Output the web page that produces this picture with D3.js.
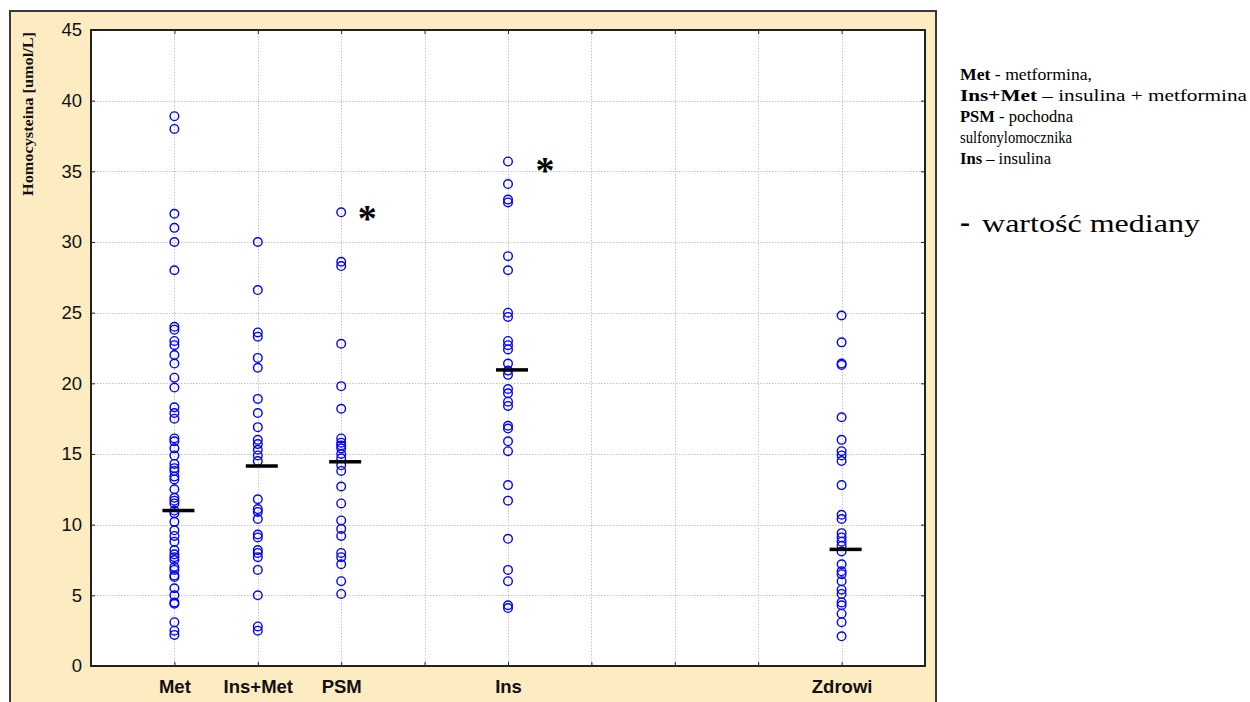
<!DOCTYPE html>
<html><head><meta charset="utf-8">
<script src="https://cdn.jsdelivr.net/npm/d3@7"></script>
<style>
html,body{margin:0;padding:0;background:#fff;}
svg{display:block;}
</style>
</head><body>
<svg id="chart" width="1250" height="702"></svg>
<script>
// ---- data ----
const categories = ["Met", "Ins+Met", "PSM", "Ins", "Zdrowi"];
const categoryCodes = [1, 2, 3, 5, 9];
const metValues = [38.9, 38.0, 32.0, 31.0, 30.0, 28.0, 24.0, 23.8, 23.0, 22.7, 22.0, 21.4, 20.4, 19.7, 18.3, 17.9, 17.5, 16.1, 15.9, 15.4, 14.9, 14.3, 14.0, 13.8, 13.4, 13.2, 12.5, 11.9, 11.7, 11.5, 11.0, 10.8, 10.2, 9.6, 9.2, 8.8, 8.2, 7.9, 7.7, 7.5, 7.0, 6.8, 6.4, 6.3, 5.5, 5.0, 4.5, 4.4, 3.1, 2.5, 2.2];
const insMetValues = [30.0, 26.6, 23.6, 23.3, 21.8, 21.1, 18.9, 17.9, 16.9, 16.0, 15.7, 15.3, 14.9, 14.5, 11.8, 11.1, 10.9, 10.4, 9.3, 9.1, 8.2, 8.0, 7.7, 6.8, 5.0, 2.8, 2.5];
const psmValues = [32.1, 28.6, 28.3, 22.8, 19.8, 18.2, 16.1, 15.8, 15.6, 15.4, 15.0, 14.7, 14.2, 13.8, 12.7, 11.5, 10.3, 9.7, 9.2, 8.0, 7.7, 7.2, 6.0, 5.1];
const insValues = [35.7, 34.1, 33.0, 32.8, 29.0, 28.0, 25.0, 24.7, 23.0, 22.7, 22.4, 21.4, 20.9, 20.6, 19.6, 19.3, 18.7, 18.4, 17.0, 16.8, 15.9, 15.2, 12.8, 11.7, 9.0, 6.8, 6.0, 4.3, 4.1];
const zdrowiValues = [24.8, 22.9, 21.4, 21.3, 17.6, 16.0, 15.2, 14.9, 14.5, 12.8, 10.7, 10.4, 9.4, 9.1, 8.8, 8.5, 8.1, 7.2, 6.7, 6.5, 6.0, 5.4, 5.1, 4.5, 4.3, 3.7, 3.1, 2.1];
const medians = [11.0, 14.15, 14.45, 20.95, 8.25];
const significantCategories = ["PSM", "Ins"];
const significantValues = [32.1, 35.5];
const yTicks = [0, 5, 10, 15, 20, 25, 30, 35, 40, 45];
const xGridCodes = [1, 2, 3, 4, 5, 6, 7, 8, 9];
const yLabel = "Homocysteina [umol/L]";
const legendLines = [
  [["Met", true], [" - metformina,", false]],
  [["Ins+Met", true], [" \u2013 insulina + metformina", false]],
  [["PSM", true], [" - pochodna", false]],
  [["sulfonylomocznika", false]],
  [["Ins", true], [" \u2013 insulina", false]]
];
const medianLegend = "wartość mediany";

const seriesValues = [metValues, insMetValues, psmValues, insValues, zdrowiValues];

// ---- layout ----
const svg = d3.select("#chart");
const plot = {left: 91, right: 925, top: 30, bottom: 666};
const x = d3.scaleLinear().domain([0, 10]).range([plot.left, plot.right]);
const y = d3.scaleLinear().domain([0, 45]).range([plot.bottom, plot.top]);

// outer frame
svg.append("rect").attr("x", 10).attr("y", 11).attr("width", 926).attr("height", 720)
  .attr("fill", "#fdebc1").attr("stroke", "#3a3a3a").attr("stroke-width", 2);
// plot area
svg.append("rect").attr("x", plot.left).attr("y", plot.top)
  .attr("width", plot.right - plot.left).attr("height", plot.bottom - plot.top)
  .attr("fill", "#ffffff");

// grid
const grid = svg.append("g").attr("stroke", "#c4c4c4").attr("stroke-width", 1).attr("stroke-dasharray", "1.5,1.5");
grid.selectAll("line.h").data(yTicks.filter(d => d > 0 && d < 45)).join("line")
  .attr("x1", plot.left).attr("x2", plot.right)
  .attr("y1", d => Math.round(y(d)) + 0.5).attr("y2", d => Math.round(y(d)) + 0.5);
grid.selectAll("line.v").data(xGridCodes).join("line")
  .attr("y1", plot.top).attr("y2", plot.bottom)
  .attr("x1", d => Math.round(x(d)) + 0.5).attr("x2", d => Math.round(x(d)) + 0.5);

// axes
const fontSans = "'Liberation Sans', Arial, sans-serif";
const fontSerif = "'Liberation Serif', 'Times New Roman', serif";
const yAxis = d3.axisLeft(y).tickValues(yTicks).tickSize(-4).tickPadding(9);
const yAxisG = svg.append("g").attr("transform", `translate(${plot.left},0)`).call(yAxis);
yAxisG.select(".domain").remove();
yAxisG.selectAll("text").attr("font-family", fontSans).attr("font-size", 18.5).attr("fill", "#111");
yAxisG.selectAll("line").attr("stroke", "#222");

const yAxisR = d3.axisRight(y).tickValues(yTicks).tickSize(-4).tickFormat("");
const yAxisRG = svg.append("g").attr("transform", `translate(${plot.right},0)`).call(yAxisR);
yAxisRG.select(".domain").remove();
yAxisRG.selectAll("line").attr("stroke", "#222");

const xAxis = d3.axisBottom(x).tickValues(xGridCodes).tickSize(-4)
  .tickFormat(d => { const i = categoryCodes.indexOf(d); return i >= 0 ? categories[i] : ""; })
  .tickPadding(14);
const xAxisG = svg.append("g").attr("transform", `translate(0,${plot.bottom})`).call(xAxis);
xAxisG.select(".domain").remove();
xAxisG.selectAll("line").attr("stroke", "#222");
xAxisG.selectAll("text").attr("font-family", fontSans).attr("font-size", 18.5)
  .attr("font-weight", "bold").attr("fill", "#111").attr("dy", "0.71em");

const xAxisT = d3.axisTop(x).tickValues(xGridCodes).tickSize(-4).tickFormat("");
const xAxisTG = svg.append("g").attr("transform", `translate(0,${plot.top})`).call(xAxisT);
xAxisTG.select(".domain").remove();
xAxisTG.selectAll("line").attr("stroke", "#222");

// plot frame
svg.append("rect").attr("x", plot.left).attr("y", plot.top)
  .attr("width", plot.right - plot.left).attr("height", plot.bottom - plot.top)
  .attr("fill", "none").attr("stroke", "#222").attr("stroke-width", 2);

// points
const points = [];
seriesValues.forEach((vals, i) => vals.forEach(v => points.push({code: categoryCodes[i], v})));
svg.append("g").selectAll("circle").data(points).join("circle")
  .attr("cx", d => x(d.code)).attr("cy", d => y(d.v)).attr("r", 4.3)
  .attr("fill", "none").attr("stroke", "#0000ff").attr("stroke-width", 1.4);

// medians
svg.append("g").selectAll("rect").data(medians).join("rect")
  .attr("x", (d, i) => x(categoryCodes[i]) + 4 - 16).attr("width", 32)
  .attr("y", d => y(d) - 1.75).attr("height", 3.5).attr("fill", "#000");

// significance asterisks
const asteriskOffset = {"PSM": 26, "Ins": 37};
svg.append("g").selectAll("text").data(significantValues).join("text")
  .attr("x", (d, i) => x(categoryCodes[categories.indexOf(significantCategories[i])]) + asteriskOffset[significantCategories[i]])
  .attr("y", d => y(d) + 19)
  .attr("text-anchor", "middle").attr("font-family", fontSerif).attr("font-weight", "bold")
  .attr("font-size", 38).attr("fill", "#000").text("*");

// y label
svg.append("text").attr("transform", "translate(28,114) rotate(-90)")
  .attr("text-anchor", "middle").attr("dominant-baseline", "central")
  .attr("font-family", fontSerif).attr("font-weight", "bold").attr("font-size", 15)
  .attr("textLength", 164).attr("lengthAdjust", "spacingAndGlyphs")
  .attr("fill", "#111").text(yLabel);

// legend
const legendWidths = [132, 287, 113, 112, 91];
const leg = svg.append("g").attr("font-family", fontSerif).attr("font-size", 17).attr("fill", "#000");
legendLines.forEach((parts, i) => {
  const t = leg.append("text").attr("x", 960).attr("y", 80 + i * 21)
    .attr("textLength", legendWidths[i]).attr("lengthAdjust", "spacingAndGlyphs");
  parts.forEach(([s, b]) => t.append("tspan").attr("font-weight", b ? "bold" : "normal").text(s));
});
svg.append("text").attr("x", 960).attr("y", 232).attr("font-family", fontSerif)
  .attr("font-weight", "bold").attr("font-size", 30).attr("fill", "#000").text("-");
svg.append("text").attr("x", 982).attr("y", 232).attr("font-family", fontSerif)
  .attr("font-size", 25).attr("fill", "#000")
  .attr("textLength", 218).attr("lengthAdjust", "spacingAndGlyphs").text(medianLegend);
</script>
</body></html>
